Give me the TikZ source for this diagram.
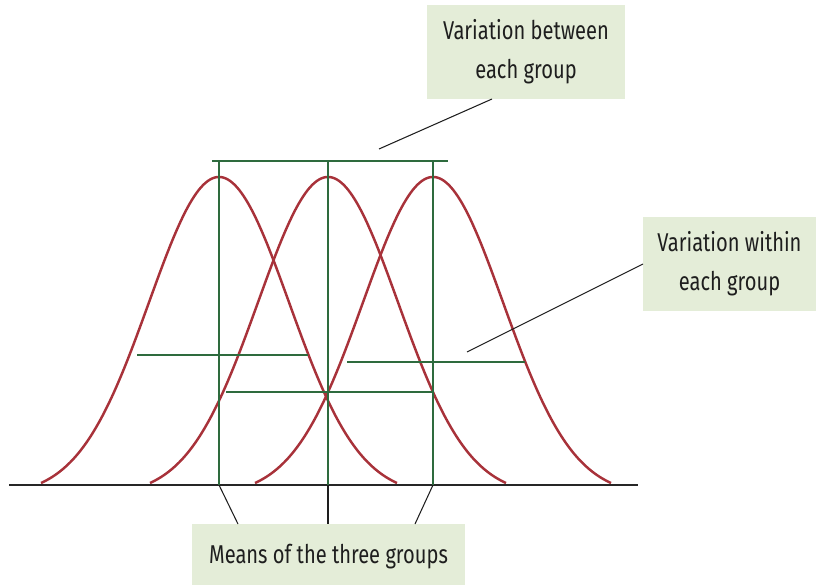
\documentclass[tikz,border=0pt]{standalone}
\usepackage{fontspec}
\setmainfont{Fira Sans}[FakeStretch=0.78]
\definecolor{curvered}{RGB}{168,50,58}
\definecolor{meangreen}{RGB}{46,107,62}
\definecolor{boxgreen}{RGB}{228,237,216}
\definecolor{inkgray}{RGB}{30,30,30}
\tikzset{
  bell/.style={curvered, line width=2.1pt},
  meanline/.style={meangreen, line width=2pt},
  labelbox/.style={fill=boxgreen, text=inkgray, align=center, inner sep=0pt,
    font=\fontsize{22}{33}\selectfont},
  pointer/.style={inkgray, line width=0.9pt},
}
\begin{document}
\begin{tikzpicture}[x=0.03cm, y=-0.03cm,
    declare function={g(\d)=exp(-(\d/99)^2);}]
  \useasboundingbox (0,0) rectangle (819,584);

  % label boxes
  \node[labelbox, minimum width=5.94cm, minimum height=2.82cm] (between) at (526,52)
    {Variation between\\each group};
  \node[labelbox, minimum width=5.19cm, minimum height=2.82cm] (within) at (729.5,264)
    {Variation within\\each group};
  \node[labelbox, minimum width=8.19cm, minimum height=1.98cm] (means) at (328.5,557)
    {Means of the three groups};

  % three bell curves
  \foreach \c in {219,328,433}
    \draw[bell] plot[domain=-178:178, samples=80, smooth]
      ({\c+\x}, {483-306*(g(\x)-0.0394)/0.9606});

  % baseline
  \draw[black!85, line width=1.6pt] (9,485) -- (638,485);

  % group means
  \foreach \c [count=\i] in {219,328,433} {
    \coordinate (top\i) at (\c,161);
    \coordinate (foot\i) at (\c,485);
    \draw[meanline] (top\i) -- (foot\i);
  }
  \draw[meanline] (212,161) -- (448,161);

  % spread inside each group
  \draw[meanline] (137,355) -- (308,355);
  \draw[meanline] (226,392) -- (433,392);
  \draw[meanline] (347,362) -- (525,362);

  % pointers
  \coordinate (betweenfoot) at (492,99);
  \coordinate (betweentip) at (379,149);
  \draw[pointer] (betweenfoot) -- (betweentip);
  \coordinate (withinfoot) at (643,264);
  \coordinate (withintip) at (467,352);
  \draw[pointer] (withinfoot) -- (withintip);
  \draw[pointer] (foot1) -- (238,524);
  \draw[pointer] (foot2) -- (328,524);
  \draw[pointer] (foot3) -- (415,524);
\end{tikzpicture}
\end{document}
